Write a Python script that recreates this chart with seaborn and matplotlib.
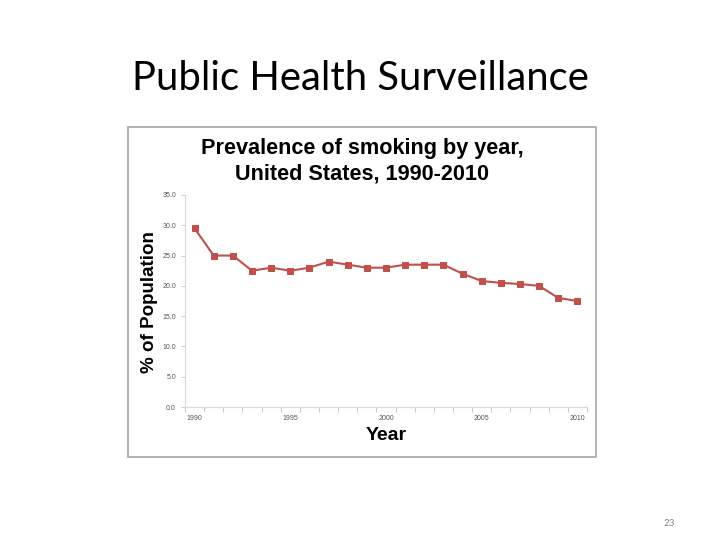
import numpy as np
import pandas as pd
import matplotlib
matplotlib.use("Agg")
import matplotlib.pyplot as plt
import seaborn as sns
from matplotlib.patches import Rectangle

# data
years = list(range(1990, 2011))
prevalence = [29.5, 25.0, 25.0, 22.5, 23.0, 22.5, 23.0, 24.0, 23.5, 23.0, 23.0,
              23.5, 23.5, 23.5, 22.0, 20.8, 20.5, 20.3, 20.0, 18.0, 17.5]
year_labels = [1990, 1995, 2000, 2005, 2010]
y_ticks = [0.0, 5.0, 10.0, 15.0, 20.0, 25.0, 30.0, 35.0]

df = pd.DataFrame({"year": years, "pct": prevalence})

sns.set_style("white")
plt.rcParams["font.family"] = ["Liberation Sans", "DejaVu Sans"]
plt.rcParams["text.color"] = "black"

fig = plt.figure(figsize=(7.2, 5.4), dpi=100)

# slide title and page number
fig.text(0.5, 0.855, "Public Health Surveillance", ha="center", va="center",
         fontsize=28.8, family=["Lato", "DejaVu Sans"], color="black")
fig.text(0.929, 0.030, "23", ha="center", va="center", fontsize=7,
         color="#888888", family=["Lato", "DejaVu Sans"])

# the chart image frame
fig.patches.append(Rectangle((128 / 720, 1 - 457 / 540), 468 / 720, 330 / 540,
                             transform=fig.transFigure, fill=False,
                             edgecolor="#a6a6a6", linewidth=1.2))

fig.text(0.503, 1 - 148 / 540, "Prevalence of smoking by year,", ha="center",
         va="center", fontsize=15.6, fontweight="bold", color="black")
fig.text(0.503, 1 - 174 / 540, "United States, 1990-2010", ha="center",
         va="center", fontsize=15.6, fontweight="bold", color="black")

ax = fig.add_axes([185 / 720, 1 - 407 / 540, 402 / 720, 212 / 540])
sns.lineplot(data=df, x="year", y="pct", ax=ax, color="#c0504d", marker="s",
             markersize=5, markeredgecolor="#c0504d", linewidth=1.5)

ax.set_xlim(1989.5, 2010.5)
ax.set_ylim(0, 35)
ax.set_yticks(y_ticks)
ax.set_yticklabels([f"{v:.1f}" for v in y_ticks])
ax.set_xticks(np.arange(1989.5, 2011, 1.0))
ax.set_xticklabels([])
ax.set_xticks(year_labels, minor=True)
ax.set_xticklabels([str(y) for y in year_labels], minor=True)
ax.tick_params(axis="x", which="major", direction="out", length=3.5,
               width=0.6, color="#bfbfbf", bottom=True)
ax.tick_params(axis="x", which="minor", length=0, pad=6, labelsize=5,
               labelcolor="#555555")
ax.tick_params(axis="y", direction="out", length=3, width=0.6,
               color="#bfbfbf", left=True, labelsize=5, labelcolor="#555555")

for side in ["top", "right"]:
    ax.spines[side].set_visible(False)
for side in ["left", "bottom"]:
    ax.spines[side].set_color("#d9d9d9")
    ax.spines[side].set_linewidth(0.8)

ax.set_xlabel("")
ax.set_ylabel("")
fig.text(386 / 720, 1 - 436 / 540, "Year", ha="center", va="center",
         fontsize=14, fontweight="bold", color="black")
fig.text(150 / 720, 1 - 302 / 540, "% of Population", ha="center",
         va="center", rotation=90, fontsize=13.5, fontweight="bold",
         color="black")

fig.savefig("out.png", dpi=100)
